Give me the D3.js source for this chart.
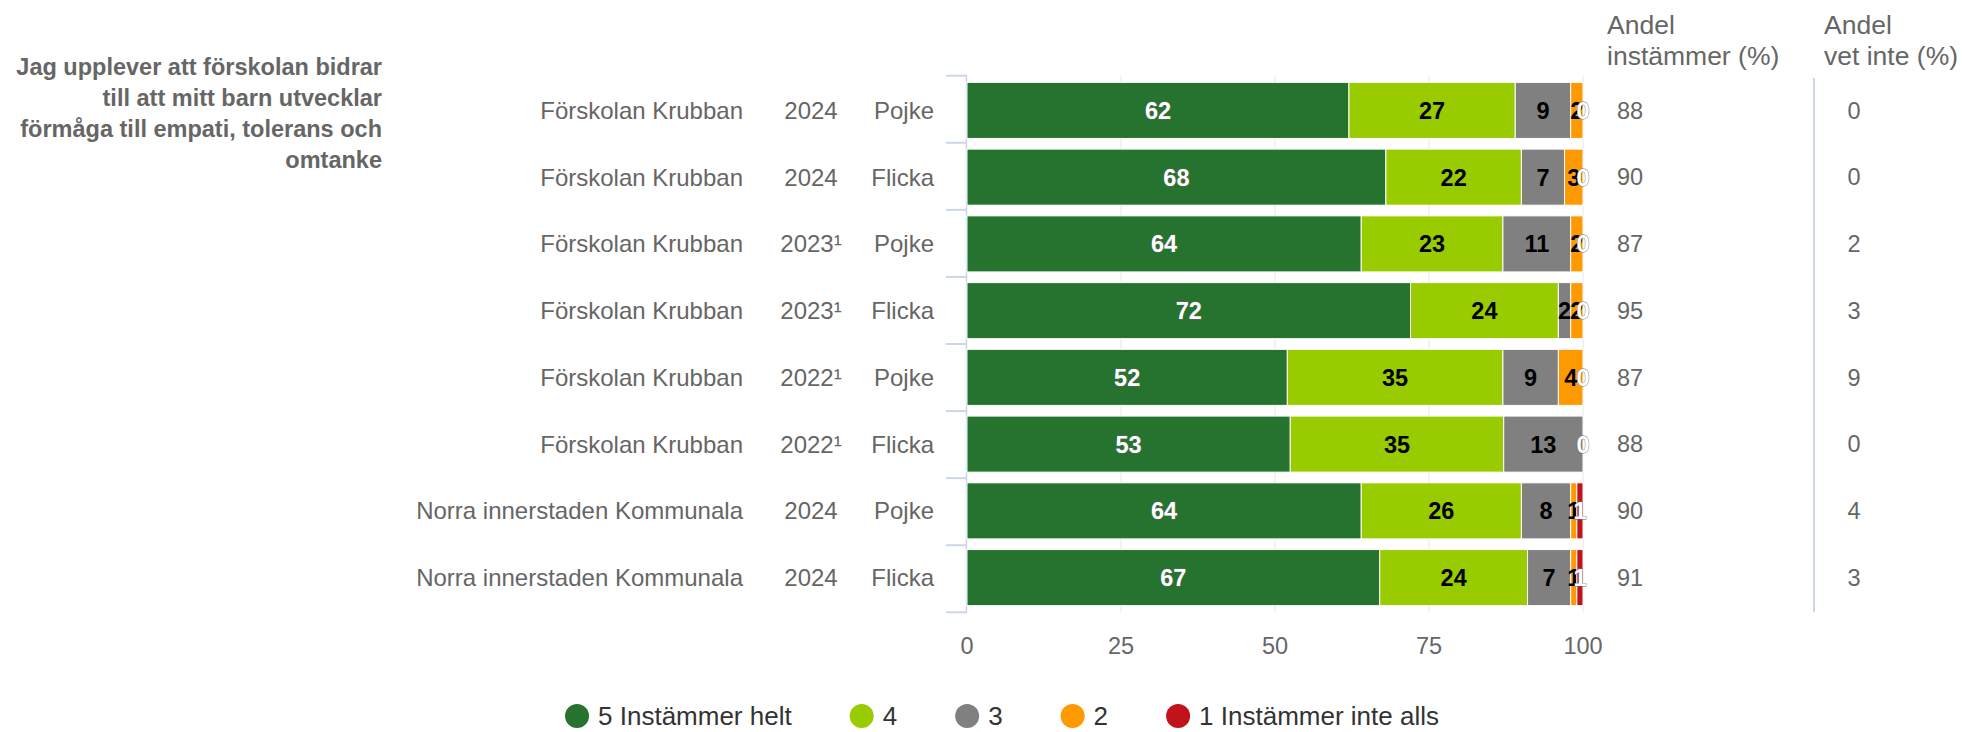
<!DOCTYPE html>
<html>
<head>
<meta charset="utf-8">
<script src="https://cdn.jsdelivr.net/npm/d3@7"></script>
<style>
  body { margin: 0; background: #fff; }
  svg { font-family: "Liberation Sans", Arial, sans-serif; }
</style>
</head>
<body>
<svg id="chart" width="1962" height="732"></svg>
<script>
// Data
const schools = ['Förskolan Krubban', 'Förskolan Krubban', 'Förskolan Krubban', 'Förskolan Krubban',
  'Förskolan Krubban', 'Förskolan Krubban', 'Norra innerstaden Kommunala', 'Norra innerstaden Kommunala'];
const years = ['2024', '2024', '2023¹', '2023¹', '2022¹', '2022¹', '2024', '2024'];
const genders = ['Pojke', 'Flicka', 'Pojke', 'Flicka', 'Pojke', 'Flicka', 'Pojke', 'Flicka'];
const seriesNames = ['5 Instämmer helt', '4', '3', '2', '1 Instämmer inte alls'];
const s5 = [62, 68, 64, 72, 52, 53, 64, 67];
const s4 = [27, 22, 23, 24, 35, 35, 26, 24];
const s3 = [9, 7, 11, 2, 9, 13, 8, 7];
const s2 = [2, 3, 2, 2, 4, 0, 1, 1];
const s1 = [0, 0, 0, 0, 0, 0, 1, 1];
const andelInstammer = [88, 90, 87, 95, 87, 88, 90, 91];
const andelVetInte = [0, 0, 2, 3, 9, 0, 4, 3];
const xTicks = [0, 25, 50, 75, 100];
const titleLines = ['Jag upplever att förskolan bidrar', 'till att mitt barn utvecklar',
  'förmåga till empati, tolerans och', 'omtanke'];

const colors = ['#25732e', '#99cc00', '#808080', '#ff9900', '#c0141a'];
const labelColors = ['#fff', '#000', '#000', '#000', '#fff'];

const svg = d3.select('#chart');
const grey = '#666666';
const fs = 23.5;

const rows = schools.map((s, i) => ({ i, s5: s5[i], s4: s4[i], s3: s3[i], s2: s2[i], s1: s1[i] }));
const keys = ['s5', 's4', 's3', 's2', 's1'];
const stacked = d3.stack().keys(keys).offset(d3.stackOffsetExpand)(rows);

const x = d3.scaleLinear().domain([0, 100]).range([967, 1583]);
const y = d3.scaleBand().domain(d3.range(8)).range([75.7, 612.3]).paddingInner(0.16).paddingOuter(0.1);
const tickY = d3.scaleLinear().domain([0, 8]).range([75.7, 612.3]);
const yc = i => y(i) + y.bandwidth() / 2;

// Title
svg.append('g').selectAll('text').data(titleLines).join('text')
  .attr('x', 382).attr('y', (d, i) => 75 + i * 31)
  .attr('text-anchor', 'end').attr('font-weight', 'bold')
  .attr('font-size', fs).attr('fill', grey).text(d => d);

// Gridlines
svg.append('g').selectAll('line').data(xTicks.slice(1)).join('line')
  .attr('x1', d => x(d)).attr('x2', d => x(d))
  .attr('y1', tickY(0)).attr('y2', tickY(8))
  .attr('stroke', '#e6e6e6').attr('stroke-width', 1);

// Category axis
const axisG = svg.append('g');
axisG.append('line')
  .attr('x1', x(0) - 0.5).attr('x2', x(0) - 0.5)
  .attr('y1', tickY(0)).attr('y2', tickY(8))
  .attr('stroke', '#ccd6eb').attr('stroke-width', 1.5);
axisG.selectAll('.tick').data(d3.range(9)).join('line')
  .attr('x1', x(0) - 21).attr('x2', x(0))
  .attr('y1', d => tickY(d)).attr('y2', d => tickY(d))
  .attr('stroke', '#ccd6eb').attr('stroke-width', 2);

// Row labels
const lab = svg.append('g').attr('font-size', 24).attr('fill', grey);
lab.selectAll('.school').data(schools).join('text')
  .attr('x', 743).attr('y', (d, i) => yc(i)).attr('dy', '0.35em')
  .attr('text-anchor', 'end').text(d => d);
lab.selectAll('.year').data(years).join('text')
  .attr('x', 811).attr('y', (d, i) => yc(i)).attr('dy', '0.35em')
  .attr('text-anchor', 'middle').text(d => d);
lab.selectAll('.gender').data(genders).join('text')
  .attr('x', 934).attr('y', (d, i) => yc(i)).attr('dy', '0.35em')
  .attr('text-anchor', 'end').text(d => d);

// Bars
const series = svg.append('g').selectAll('g').data(stacked).join('g')
  .attr('fill', (d, k) => colors[k]);
series.selectAll('rect').data(d => d).join('rect')
  .attr('x', d => x(d[0] * 100))
  .attr('y', d => y(d.data.i))
  .attr('width', d => x(d[1] * 100) - x(d[0] * 100))
  .attr('height', y.bandwidth())
  .attr('stroke', '#fff').attr('stroke-width', 1);

// Data labels
stacked.forEach((layer, k) => {
  svg.append('g').selectAll('text').data(layer.filter(d => {
    const v = d.data[keys[k]];
    const next = k < keys.length - 1 ? d.data[keys[k + 1]] : null;
    return !(v === 0 && next === 0);
  })).join('text')
    .attr('x', d => x((d[0] + d[1]) * 50))
    .attr('y', d => yc(d.data.i)).attr('dy', '0.36em')
    .attr('text-anchor', 'middle')
    .attr('font-size', fs).attr('font-weight', 'bold')
    .attr('fill', labelColors[k])
    .attr('stroke', labelColors[k] === '#fff' ? '#666' : 'none')
    .attr('stroke-width', 0.8).attr('paint-order', 'stroke')
    .text(d => d.data[keys[k]]);
});

// X axis labels
svg.append('g').selectAll('text').data(xTicks).join('text')
  .attr('x', d => x(d)).attr('y', 646).attr('dy', '0.35em')
  .attr('text-anchor', 'middle').attr('font-size', fs).attr('fill', grey)
  .text(d => d);

// Right columns
const hdr = svg.append('g').attr('font-size', 26.5).attr('fill', grey);
[['Andel', 'instämmer (%)', 1607], ['Andel', 'vet inte (%)', 1824]].forEach(h => {
  hdr.append('text').attr('x', h[2]).attr('y', 34).text(h[0]);
  hdr.append('text').attr('x', h[2]).attr('y', 65).text(h[1]);
});
svg.append('line')
  .attr('x1', 1814).attr('x2', 1814).attr('y1', 78).attr('y2', tickY(8))
  .attr('stroke', '#ccd6eb').attr('stroke-width', 2);
svg.append('g').selectAll('text').data(andelInstammer).join('text')
  .attr('x', 1630).attr('y', (d, i) => yc(i)).attr('dy', '0.35em')
  .attr('text-anchor', 'middle').attr('font-size', fs).attr('fill', grey).text(d => d);
svg.append('g').selectAll('text').data(andelVetInte).join('text')
  .attr('x', 1854).attr('y', (d, i) => yc(i)).attr('dy', '0.35em')
  .attr('text-anchor', 'middle').attr('font-size', fs).attr('fill', grey).text(d => d);

// Legend
const legend = svg.append('g').attr('transform', 'translate(0,716)');
const items = legend.selectAll('g').data(seriesNames).join('g');
items.append('circle').attr('r', 12).attr('fill', (d, k) => colors[k]);
items.append('text').attr('x', 21).attr('dy', '0.35em')
  .attr('font-size', 26).attr('fill', '#333').text(d => d);
const gap = 58;
let pos = 0;
const offs = [];
items.each(function () {
  const w = d3.select(this).select('text').node().getComputedTextLength();
  offs.push(pos);
  pos += 12 + 21 + w + gap;
});
const total = pos - gap;
const start = 1002 - total / 2 + 12;
items.attr('transform', (d, k) => `translate(${start + offs[k]},0)`);
</script>
</body>
</html>
